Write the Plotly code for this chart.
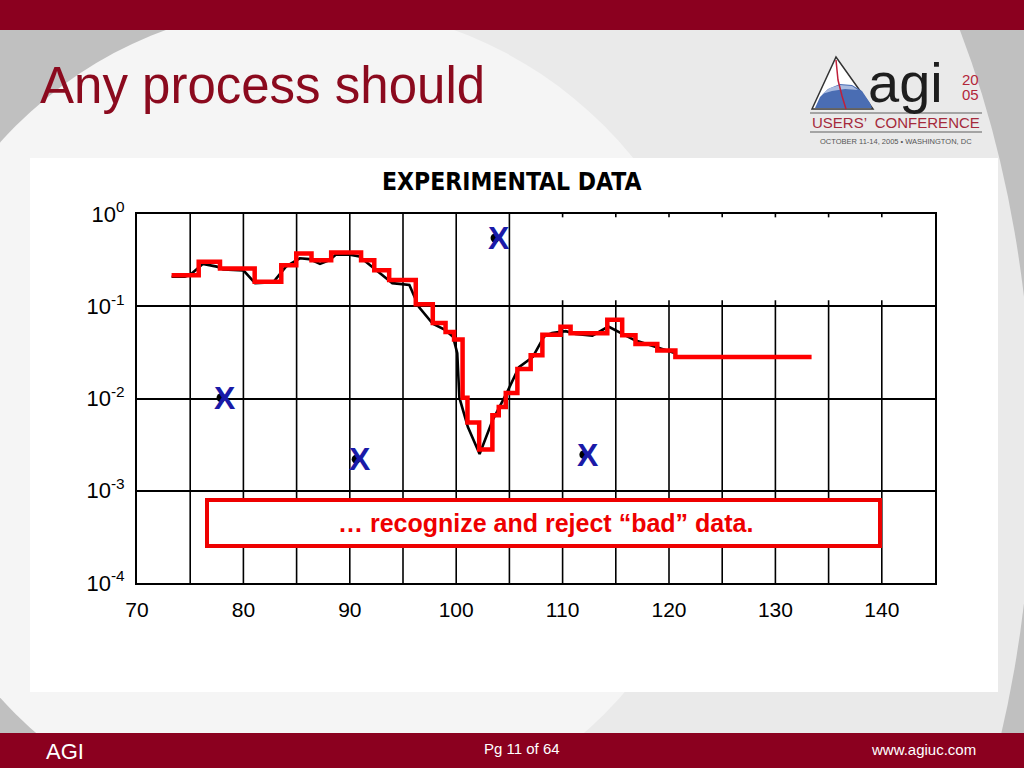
import numpy as np
import plotly.graph_objects as go

W, H = 1024, 768

# ---- data ----
# measured experimental curve (black)
data_x = [73.25, 74.5, 75.0, 76.2, 77.5, 78.1, 80.0, 81.1, 82.8, 84.0, 85.3, 86.2,
          87.2, 88.1, 88.7, 90.0, 90.9, 92.5, 94.0, 95.6, 96.5, 97.8, 99.0, 99.7,
          100.1, 100.3, 101.1, 102.2, 103.4, 104.7, 105.9, 107.2, 108.25, 109.0,
          110.3, 111.2, 112.8, 114.3, 115.3, 116.8, 118.7, 120.6]
data_y = [0.209, 0.209, 0.219, 0.288, 0.269, 0.251, 0.245, 0.178, 0.182, 0.269, 0.331, 0.324,
          0.288, 0.316, 0.363, 0.363, 0.347, 0.245, 0.178, 0.170, 0.0977, 0.0646, 0.055, 0.0468,
          0.0309, 0.0102, 0.0049, 0.0025, 0.00575, 0.0112, 0.0219, 0.0282, 0.0468, 0.0513,
          0.0537, 0.0501, 0.0479, 0.0603, 0.0525, 0.0427, 0.0363, 0.0309]

# stepped fit (red)
fit_x = [73.25, 75.8, 77.8, 81.06, 83.56, 84.97, 86.4, 88.25, 91.06, 92.3, 93.7, 96.2,
         97.8, 99.0, 99.8, 100.6, 101.06, 102.16, 103.4, 104.0, 104.66, 105.75, 107.0,
         108.1, 109.8, 110.75, 114.2, 115.6, 116.85, 118.9, 120.6, 133.4]
fit_y = [0.217, 0.303, 0.257, 0.184, 0.279, 0.373, 0.316, 0.383, 0.316, 0.246, 0.192, 0.105,
         0.066, 0.0525, 0.0437, 0.0102, 0.0055, 0.0028, 0.0066, 0.0081, 0.0115, 0.0209, 0.0295,
         0.049, 0.060, 0.051, 0.0716, 0.0484, 0.0389, 0.0331, 0.0282, 0.0282]

# rejected "bad" points
bad_x = [77.9, 90.6, 103.65, 112.0]
bad_y = [0.0102, 0.0022, 0.55, 0.00246]

# axes / grid
x_tickvals = [70, 80, 90, 100, 110, 120, 130, 140]
x_ticktext = ["70", "80", "90", "100", "110", "120", "130", "140"]
y_tickvals = [1, 0.1, 0.01, 0.001, 0.0001]
y_ticktext = ["10<sup>0</sup>", "10<sup>-1</sup>", "10<sup>-2</sup>", "10<sup>-3</sup>", "10<sup>-4</sup>"]
grid_x = [75, 80, 85, 90, 95, 100, 105, 110, 115, 120, 125, 130, 135, 140]
grid_top = [1, 1, 1, 1, 1, 1, 1, 0.116, 0.116, 0.116, 0.116, 0.116, 0.116, 0.116]


def fx(p):
    return p / W


def fy(p):
    return 1 - p / H


def path(points, close=True):
    s = "M " + " L ".join(f"{fx(a):.5f},{fy(b):.5f}" for a, b in points)
    return s + (" Z" if close else "")


# grid lines as one trace
gx, gy = [], []
for xv, top in zip(grid_x, grid_top):
    gx += [xv, xv, None]
    gy += [1e-4, top, None]
    if top < 1:
        gx += [xv, xv, None]
        gy += [1, 0.92, None]

fig = go.Figure()
fig.add_trace(go.Scatter(x=gx, y=gy, mode="lines", line=dict(color="black", width=1.6),
                         hoverinfo="skip", showlegend=False))
fig.add_trace(go.Scatter(x=data_x, y=data_y, mode="lines", line=dict(color="black", width=2.6),
                         showlegend=False))
fig.add_trace(go.Scatter(x=fit_x, y=fit_y, mode="lines", line=dict(color="#ff0000", width=4.5, shape="hv"),
                         showlegend=False))
fig.add_trace(go.Scatter(x=bad_x, y=bad_y, mode="markers", marker=dict(color="black", size=9),
                         showlegend=False))

shapes = [
    # slide background
    dict(type="circle", xref="paper", yref="paper", x0=fx(600 - 433), x1=fx(600 + 433),
         y0=fy(450 - 755), y1=fy(450 + 755), fillcolor="#eaeaea", line=dict(width=0), layer="below"),
    dict(type="circle", xref="paper", yref="paper", x0=fx(310 - 416), x1=fx(310 + 416),
         y0=fy(420 - 416), y1=fy(420 + 416), fillcolor="#f5f5f5", line=dict(width=0), layer="below"),
    dict(type="rect", xref="paper", yref="paper", x0=0, x1=1, y0=fy(30), y1=1,
         fillcolor="#8b001f", line=dict(width=0), layer="below"),
    dict(type="rect", xref="paper", yref="paper", x0=0, x1=1, y0=0, y1=fy(733),
         fillcolor="#8b001f", line=dict(width=0), layer="below"),
    # white chart panel
    dict(type="rect", xref="paper", yref="paper", x0=fx(30), x1=fx(998), y0=fy(692), y1=fy(158),
         fillcolor="white", line=dict(width=0), layer="below"),
    # logo
    dict(type="path", xref="paper", yref="paper", path=path([(812, 109), (836, 57), (873, 109)]),
         fillcolor="white", line=dict(color="#333333", width=1.5), layer="below"),
    dict(type="path", xref="paper", yref="paper",
         path=path([(815, 108), (820, 97), (828, 89), (840, 84), (852, 85), (862, 91), (870, 103), (872, 108)]),
         fillcolor="#4a6db3", line=dict(width=0), layer="below"),
    dict(type="path", xref="paper", yref="paper",
         path=path([(822, 94), (830, 88), (840, 85), (852, 86), (858, 90), (845, 89), (832, 91)]),
         fillcolor="#a9bbe0", line=dict(width=0), layer="below"),
    dict(type="path", xref="paper", yref="paper", path=path([(836, 60), (838, 80), (842, 96), (846, 109)], close=False),
         line=dict(color="#c0203a", width=1.5), layer="below"),
    dict(type="line", xref="paper", yref="paper", x0=fx(810), x1=fx(982), y0=fy(113), y1=fy(113),
         line=dict(color="#8c8c8c", width=1.5), layer="below"),
    dict(type="line", xref="paper", yref="paper", x0=fx(810), x1=fx(982), y0=fy(132), y1=fy(132),
         line=dict(color="#8c8c8c", width=1.5), layer="below"),
    # red call-out box
    dict(type="rect", xref="paper", yref="paper", x0=fx(207), x1=fx(880), y0=fy(546), y1=fy(500),
         fillcolor="white", line=dict(color="#ee0000", width=4), layer="above"),
]

annotations = [
    dict(text="Any process should", x=fx(38), y=fy(85), xanchor="left", yanchor="middle",
         font=dict(family="Liberation Sans, Arial, sans-serif", size=51, color="#8b0a1e")),
    dict(text="<b>EXPERIMENTAL DATA</b>", x=fx(511), y=fy(182), xanchor="center", yanchor="middle",
         font=dict(family="DejaVu Sans Condensed, Liberation Sans, sans-serif", size=24.5, color="black")),
    dict(text="<b>… recognize and reject “bad” data.</b>", x=fx(545), y=fy(523), xanchor="center", yanchor="middle",
         font=dict(family="Liberation Sans, Arial, sans-serif", size=25, color="#ee0000")),
    dict(text="agi", x=fx(866), y=fy(83), xanchor="left", yanchor="middle",
         font=dict(family="Liberation Sans, Arial, sans-serif", size=56, color="#1e1e1e")),
    dict(text="20", x=fx(970), y=fy(79), xanchor="center", yanchor="middle",
         font=dict(family="Liberation Sans, Arial, sans-serif", size=15, color="#b3263a")),
    dict(text="05", x=fx(970), y=fy(94), xanchor="center", yanchor="middle",
         font=dict(family="Liberation Sans, Arial, sans-serif", size=15, color="#b3263a")),
    dict(text="USERS’  CONFERENCE", x=fx(896), y=fy(122.5), xanchor="center", yanchor="middle",
         font=dict(family="Liberation Sans, Arial, sans-serif", size=15, color="#a52a3c")),
    dict(text="OCTOBER 11-14, 2005 • WASHINGTON, DC", x=fx(896), y=fy(141), xanchor="center", yanchor="middle",
         font=dict(family="Liberation Sans, Arial, sans-serif", size=7.5, color="#555555")),
    dict(text="AGI", x=fx(44), y=fy(751), xanchor="left", yanchor="middle",
         font=dict(family="Liberation Sans, Arial, sans-serif", size=22, color="white")),
    dict(text="Pg 11 of 64", x=fx(522), y=fy(748), xanchor="center", yanchor="middle",
         font=dict(family="Liberation Sans, Arial, sans-serif", size=15, color="white")),
    dict(text="www.agiuc.com", x=fx(978), y=fy(749), xanchor="right", yanchor="middle",
         font=dict(family="Liberation Sans, Arial, sans-serif", size=15, color="white")),
]
for a in annotations:
    a.update(xref="paper", yref="paper", showarrow=False)

# blue X markers on the rejected points
for bx, by in zip(bad_x, bad_y):
    annotations.append(dict(text="<b>X</b>", x=bx, y=float(np.log10(by)), xref="x", yref="y",
                            xshift=4, showarrow=False, xanchor="center", yanchor="middle",
                            font=dict(family="Liberation Sans, Arial, sans-serif", size=32, color="#1a1aa8")))

fig.update_layout(
    template="none",
    width=W, height=H, autosize=False,
    margin=dict(l=0, r=0, t=0, b=0),
    paper_bgcolor="#c0c0c0",
    plot_bgcolor="white",
    shapes=shapes,
    annotations=annotations,
    showlegend=False,
    xaxis=dict(domain=[fx(137), fx(935)], range=[70, 145], tickvals=x_tickvals, ticktext=x_ticktext,
               showgrid=False, zeroline=False, showline=True, linecolor="black", linewidth=2, mirror=True,
               ticks="", ticklabelstandoff=7,
               tickfont=dict(family="Liberation Sans, Arial, sans-serif", size=21, color="black")),
    yaxis=dict(domain=[fy(583), fy(214)], type="log", range=[-4, 0], tickvals=y_tickvals, ticktext=y_ticktext,
               showgrid=True, gridcolor="black", gridwidth=1.6, zeroline=False,
               showline=True, linecolor="black", linewidth=2, mirror=True,
               ticks="", ticklabelstandoff=6,
               tickfont=dict(family="Liberation Sans, Arial, sans-serif", size=22, color="black")),
)

fig.write_html("out.html", config={"displayModeBar": False},
               post_script="document.body.style.margin='0px';document.body.style.overflow='hidden';")
